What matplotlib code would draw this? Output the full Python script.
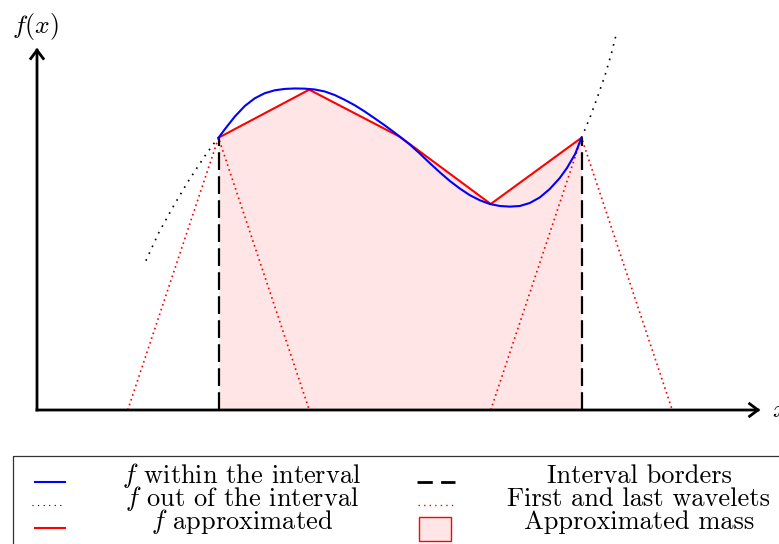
import matplotlib
matplotlib.use("Agg")
import matplotlib.pyplot as plt
from matplotlib.patches import FancyArrowPatch, Rectangle

plt.rcParams['font.family'] = 'serif'
plt.rcParams['font.serif'] = ['cmr10']
plt.rcParams['mathtext.fontset'] = 'cm'
plt.rcParams['axes.formatter.use_mathtext'] = True

# f inside the interval
x_in = [2.00, 2.07, 2.18, 2.29, 2.40, 2.51, 2.62, 2.73, 2.84, 2.95,
        3.06, 3.17, 3.28, 3.39, 3.50, 3.61, 3.72, 3.83, 3.94, 4.00,
        4.11, 4.22, 4.33, 4.44, 4.55, 4.66, 4.77, 4.88, 4.99, 5.10,
        5.21, 5.32, 5.43, 5.54, 5.65, 5.76, 5.84, 5.93, 5.96, 6.00]
y_in = [3.00, 3.094, 3.234, 3.350, 3.435, 3.491, 3.523, 3.538, 3.543, 3.541,
        3.532, 3.510, 3.471, 3.418, 3.359, 3.290, 3.215, 3.138, 3.057, 3.01,
        2.924, 2.824, 2.719, 2.618, 2.523, 2.440, 2.367, 2.311, 2.27, 2.248,
        2.241, 2.248, 2.281, 2.342, 2.435, 2.556, 2.667, 2.821, 2.898, 3.00]

# f outside the interval
x_left = [1.20, 1.34, 1.50, 1.66, 1.84, 1.94, 2.00]
y_left = [1.645, 1.95, 2.24, 2.51, 2.785, 2.925, 3.00]
x_right = [6.00, 6.05, 6.10, 6.18, 6.26, 6.33, 6.39]
y_right = [3.00, 3.12, 3.24, 3.46, 3.69, 3.93, 4.17]

# piecewise linear approximation at the nodes
nodes = [2, 3, 4, 5, 6]
approx = [3.00, 3.53, 3.01, 2.27, 3.00]

# first and last hat wavelets
wave_first_x = [1, 2, 3]
wave_first_y = [0, 3.00, 0]
wave_last_x = [5, 6, 7]
wave_last_y = [0, 3.00, 0]

W, H = 779, 544
scale = 90.75   # pixels per unit
ox, oy = 37, 410

fig = plt.figure(figsize=(W / 100, H / 100), dpi=100)
ax = fig.add_axes([0, 0, 1, 1])
ax.set_xlim(-ox / scale, (W - ox) / scale)
ax.set_ylim((oy - H) / scale, oy / scale)
ax.axis('off')

pink = (1, 0, 0, 0.1)
ax.fill_between(nodes, approx, 0, color=pink, lw=0, zorder=1)

ax.plot(wave_first_x, wave_first_y, color='red', lw=1.2, ls=(0, (1, 2)), zorder=2)
ax.plot(wave_last_x, wave_last_y, color='red', lw=1.2, ls=(0, (1, 2)), zorder=2)

for xb, yb in [(nodes[0], approx[0]), (nodes[-1], approx[-1])]:
    ax.plot([xb, xb], [0, yb], color='black', lw=1.6, ls=(0, (8, 2.8)), zorder=3)

ax.plot(x_left, y_left, color='black', lw=1.2, ls=(0, (1, 3.5)), zorder=3)
ax.plot(x_right, y_right, color='black', lw=1.2, ls=(0, (1, 3.5)), zorder=3)

ax.plot(nodes, approx, color='red', lw=1.5, zorder=4)
ax.plot(x_in, y_in, color='blue', lw=1.5, zorder=5, solid_joinstyle='round')

# axes with open arrow heads
for end in [(7.97, 0), (0, 3.99)]:
    ax.add_patch(FancyArrowPatch((0, 0), end, arrowstyle='->,head_length=0.6,head_width=0.45',
                                 mutation_scale=10, lw=2, color='black', shrinkA=0, shrinkB=0,
                                 joinstyle='miter', capstyle='projecting', zorder=6))
ax.text(-0.02, 4.23, '$f(x)$', fontsize=18.5, ha='center', va='center')
ax.text(8.1, 0, '$x$', fontsize=18.5, ha='left', va='center')

# legend drawn in pixel space
lax = fig.add_axes([0, 0, 1, 1], zorder=10)
lax.set_xlim(0, W)
lax.set_ylim(H, 0)
lax.axis('off')
lax.add_patch(Rectangle((13.5, 455.5), 800, 100, fill=False, ec='#333333', lw=0.9))

rows = [483, 506, 529]
lax.plot([35, 65], [rows[0] - 1, rows[0] - 1], color='blue', lw=1.5)
lax.plot([32, 65], [rows[1] - 1, rows[1] - 1], color='black', lw=0.8, ls=(0, (1, 4)))
lax.plot([35, 65], [rows[2] - 1, rows[2] - 1], color='red', lw=1.5)
lax.plot([417, 455], [rows[0] - 1, rows[0] - 1], color='black', lw=2, ls=(0, (5.5, 3)))
lax.plot([418, 455], [rows[1] - 1, rows[1] - 1], color='red', lw=1.0, ls=(0, (1, 3)))
lax.add_patch(Rectangle((419, 517), 32, 24, fc=pink, ec='red', lw=1))

labels_left = ['$f$ within the interval', '$f$ out of the interval', '$f$ approximated']
labels_right = ['Interval borders', 'First and last wavelets', 'Approximated mass']
for r, a, b in zip(rows, labels_left, labels_right):
    lax.text(242, r, a, fontsize=19, ha='center', va='baseline')
    lax.text(639, r, b, fontsize=19, ha='center', va='baseline')

fig.savefig('out.png', dpi=100)
